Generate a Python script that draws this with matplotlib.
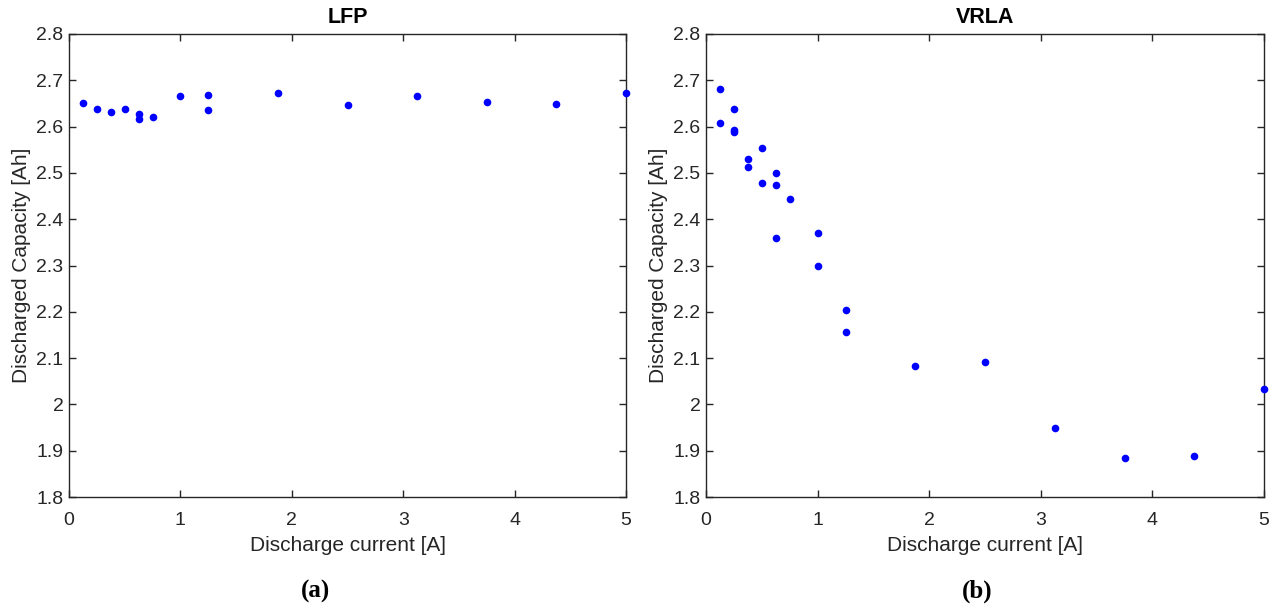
import matplotlib.pyplot as plt

plt.rcParams['font.family'] = ['Liberation Sans', 'DejaVu Sans']

# LFP cell: discharge current [A] vs. discharged capacity [Ah]
lfp_current = [0.125, 0.25, 0.375, 0.5, 0.625, 0.625, 0.75, 1.0, 1.25, 1.25,
               1.875, 2.5, 3.125, 3.75, 4.375, 5.0]
lfp_capacity = [2.650, 2.638, 2.632, 2.637, 2.627, 2.617, 2.620, 2.666, 2.668, 2.636,
                2.673, 2.646, 2.666, 2.654, 2.649, 2.673]

# VRLA cell
vrla_current = [0.125, 0.125, 0.25, 0.25, 0.25, 0.375, 0.375, 0.5, 0.5,
                0.625, 0.625, 0.625, 0.75, 1.0, 1.0, 1.25, 1.25,
                1.875, 2.5, 3.125, 3.75, 4.375, 5.0]
vrla_capacity = [2.681, 2.607, 2.639, 2.593, 2.589, 2.530, 2.513, 2.553, 2.479,
                 2.500, 2.474, 2.359, 2.444, 2.370, 2.299, 2.204, 2.156,
                 2.084, 2.091, 1.948, 1.885, 1.889, 2.033]

xticks = [0, 1, 2, 3, 4, 5]
yticks = [1.8, 1.9, 2.0, 2.1, 2.2, 2.3, 2.4, 2.5, 2.6, 2.7, 2.8]
ytick_labels = ['1.8', '1.9', '2', '2.1', '2.2', '2.3', '2.4', '2.5', '2.6', '2.7', '2.8']

W, H = 1283, 610
fig = plt.figure(figsize=(W / 100, H / 100), dpi=100)

axc = '#262626'
panels = [
    ('LFP', lfp_current, lfp_capacity, 69, 626, '(a)', 315),
    ('VRLA', vrla_current, vrla_capacity, 706, 1264, '(b)', 977),
]

for title, xs, ys, x0, x1, tag, tag_x in panels:
    ax = fig.add_axes([x0 / W, 1 - 497 / H, (x1 - x0) / W, (497 - 34) / H])
    ax.plot(xs, ys, 'o', color='#0000ff', markersize=5.5, markeredgewidth=0,
            clip_on=False, zorder=3)
    ax.set_xlim(0, 5)
    ax.set_ylim(1.8, 2.8)
    ax.set_xticks(xticks)
    ax.set_yticks(yticks)
    ax.set_yticklabels(ytick_labels)
    ax.tick_params(direction='in', length=5, width=1, colors=axc, labelsize=14,
                   top=True, right=True, pad=4)
    ax.tick_params(axis='x', pad=11)
    for sp in ax.spines.values():
        sp.set_color(axc)
        sp.set_linewidth(1)
    ax.set_xlabel('Discharge current [A]', fontsize=15, color=axc, labelpad=5)
    ax.set_ylabel('Discharged Capacity [Ah]', fontsize=15, color=axc, labelpad=4)
    ax.set_title(title, fontsize=15.5, fontweight='bold', color='black', pad=8)
    fig.text(tag_x / W, 1 - 591 / H, tag, ha='center', va='center',
             fontsize=18, fontweight='bold', family='Liberation Serif')

fig.savefig('out.png', dpi=100)
